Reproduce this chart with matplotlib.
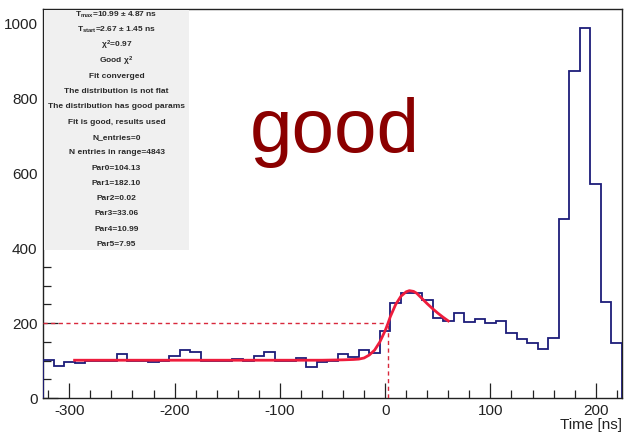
import numpy as np
import matplotlib
matplotlib.use("Agg")
import matplotlib.pyplot as plt
from matplotlib.patches import Rectangle
from matplotlib.ticker import MultipleLocator

plt.rcParams['font.family'] = ['Liberation Sans', 'DejaVu Sans']
plt.rcParams['mathtext.fontset'] = 'custom'
plt.rcParams['mathtext.rm'] = 'Liberation Sans:bold'
plt.rcParams['mathtext.it'] = 'Liberation Sans:bold'
plt.rcParams['mathtext.bf'] = 'Liberation Sans:bold'
plt.rcParams['axes.unicode_minus'] = False

# ---- data ----
bin_start = -325
bin_width = 10
counts = [102, 86, 95, 93, 99, 99, 99, 117, 99, 99,
          96, 99, 111, 128, 122, 99, 99, 99, 105, 99,
          111, 124, 99, 99, 108, 82, 97, 98, 117, 109,
          129, 120, 178, 253, 282, 282, 263, 215, 206, 226,
          203, 210, 200, 206, 175, 158, 148, 130, 161, 479,
          874, 988, 571, 257, 146]

fit_x = [-295, -200, -100, -60, -40, -30, -25, -20, -15, -10, -5, 0, 2.5, 5,
         10, 15, 20, 23, 27, 30, 35, 40, 45, 50, 55, 60]
fit_y = [101, 101, 101, 101, 102, 103, 104, 107, 115, 128, 150, 180, 198, 218,
         250, 272, 284, 287, 285, 280, 266, 252, 239, 227, 216, 206]

t_start = 2.67
threshold = 200

info_lines = [
    r"T$_{\mathrm{max}}$=10.99 $\pm$ 4.87 ns",
    r"T$_{\mathrm{start}}$=2.67 $\pm$ 1.45 ns",
    r"$\chi^{2}$=0.97",
    r"Good $\chi^{2}$",
    "Fit converged",
    "The distribution is not flat",
    "The distribution has good params",
    "Fit is good, results used",
    "N_entries=0",
    "N entries in range=4843",
    "Par0=104.13",
    "Par1=182.10",
    "Par2=0.02",
    "Par3=33.06",
    "Par4=10.99",
    "Par5=7.95",
]

xlabel = "Time [ns]"
status_text = "good"

# ---- figure ----
fig = plt.figure(figsize=(6.24, 4.33), dpi=100)
ax = fig.add_axes([43/624, 35/433, 579/624, 389/433])

edges = bin_start + bin_width * np.arange(len(counts) + 1)
ax.stairs(counts, edges, color='#1c1c7a', lw=1.3, zorder=4)
ax.plot(fit_x, fit_y, color='#ee1c3c', lw=2.0, zorder=5)

ax.plot([edges[0], t_start], [threshold, threshold], color='#d8283c',
        lw=1.0, ls=(0, (3, 2.5)), zorder=3)
ax.plot([t_start, t_start], [0, threshold], color='#d8283c',
        lw=1.0, ls=(0, (3, 2.5)), zorder=3)

ax.set_xlim(-325, 225)
ax.set_ylim(0, 1040)

ax.xaxis.set_major_locator(MultipleLocator(100))
ax.xaxis.set_minor_locator(MultipleLocator(20))
ax.yaxis.set_major_locator(MultipleLocator(200))
ax.yaxis.set_minor_locator(MultipleLocator(50))
ax.tick_params(which='both', direction='in', width=0.9, colors='#222222',
               labelsize=11, labelcolor='#222222')
ax.tick_params(which='major', length=11)
ax.tick_params(which='minor', length=5.5)
ax.tick_params(axis='x', pad=4)
ax.tick_params(axis='y', pad=4)
for s in ax.spines.values():
    s.set_linewidth(1.0)
    s.set_color('#222222')

ax.set_xlabel(xlabel, loc='right', fontsize=11, labelpad=0, color='#222222')

# info box
ax.add_patch(Rectangle((0.002, 0.38), 0.25, 0.618, transform=ax.transAxes,
                       facecolor='#f0f0f0', edgecolor='none', zorder=6))
for i, line in enumerate(info_lines):
    ypix = 15 + i * 15.3
    ax.text(0.127, (398 - ypix) / 389, line, transform=ax.transAxes,
            ha='center', va='center', fontsize=6.0, fontweight='bold',
            color='#2a2a2a', zorder=7)

fig.text(335/624, (433 - 152)/433, status_text, ha='center', va='baseline',
         fontsize=55, color='#8b0000')

fig.savefig("out.png", dpi=100)
